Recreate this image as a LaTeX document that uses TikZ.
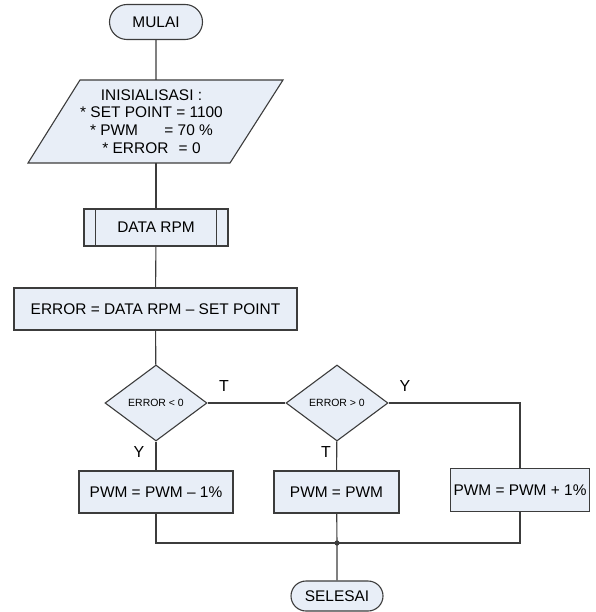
\documentclass[tikz,border=0pt]{standalone}
\usepackage{fontspec}
\setmainfont{Liberation Sans}
\usetikzlibrary{shapes.misc,shapes.geometric}
\definecolor{boxfill}{RGB}{232,238,247}
\definecolor{linec}{RGB}{60,60,60}
\tikzset{
  base/.style={draw=linec, line width=1.1bp, fill=boxfill, inner sep=0pt, font=\fontsize{15.5}{18}\selectfont},
  term/.style={base, rounded rectangle},
  proc/.style={base, rectangle},
  decision/.style={base, diamond, font=\fontsize{10.5}{12}\selectfont},
  conn/.style={draw=linec, line width=1.1bp},
  lbl/.style={font=\fontsize{16}{18}\selectfont, inner sep=0pt}
}
\begin{document}
\begin{tikzpicture}[x=1bp,y=-1bp]
\useasboundingbox (0,0) rectangle (596,612);
% start
\node[term, minimum width=93bp, minimum height=35bp] (mulai) at (156,22) {MULAI};
% initialisation parallelogram
\coordinate (initN) at (156,80);
\coordinate (initS) at (156,163);
\draw[conn, fill=boxfill] (80,80) -- (283,80) -- (230,163) -- (28,163) -- cycle;
\node[align=center, inner sep=0pt, font=\fontsize{15.5}{17.7}\selectfont] (init) at (151.5,121.5)
  {INISIALISASI :\\* SET POINT = 1100\\* PWM\hspace{22bp} = 70 \%\\* ERROR\hspace{6bp} = 0};
% data rpm (predefined process)
\node[proc, minimum width=144bp, minimum height=37bp] (data) at (156,227.5) {DATA RPM};
\draw[conn] ([xshift=12bp]data.north west) -- ([xshift=12bp]data.south west);
\draw[conn] ([xshift=-12bp]data.north east) -- ([xshift=-12bp]data.south east);
% error computation
\node[proc, minimum width=283bp, minimum height=42bp] (err) at (155.5,309) {ERROR = DATA RPM -- SET POINT};
% decisions
\node[decision, minimum width=102bp, minimum height=76bp] (d1) at (156,403) {ERROR {<} 0};
\node[decision, minimum width=102bp, minimum height=76bp] (d2) at (337,403) {ERROR {>} 0};
% actions
\node[proc, minimum width=154bp, minimum height=42bp] (b1) at (156,492) {PWM = PWM -- 1\%};
\node[proc, minimum width=125bp, minimum height=42bp] (b2) at (336.5,492) {PWM = PWM};
\node[proc, minimum width=139bp, minimum height=43bp] (b3) at (520,490) {PWM = PWM + 1\%};
% end
\node[term, minimum width=92bp, minimum height=30bp] (selesai) at (337,596) {SELESAI};
% connectors
\coordinate (c3) at (520,403);
\coordinate (m1) at (156,543);
\coordinate (m3) at (520,543);
\coordinate (mj) at (337,543);
\draw[conn] (mulai) -- (initN);
\draw[conn] (initS) -- (data);
\draw[conn] (data) -- (err);
\draw[conn] (err) -- (d1);
\draw[conn] (d1) -- (d2);
\draw[conn] (d1) -- (b1);
\draw[conn] (d2) -- (b2);
\draw[conn] (d2.east) -- (c3) -- (b3.north);
\draw[conn] (b1.south) -- (m1) -- (m3) -- (b3.south);
\draw[conn] (b2) -- (mj) -- (selesai);
\fill[linec] (mj) circle (2.6bp);
% labels
\node[lbl] (t1) at (224,386) {T};
\node[lbl] (y1) at (405,386) {Y};
\node[lbl] (y2) at (139,452) {Y};
\node[lbl] (t2) at (326,452) {T};
\end{tikzpicture}
\end{document}
